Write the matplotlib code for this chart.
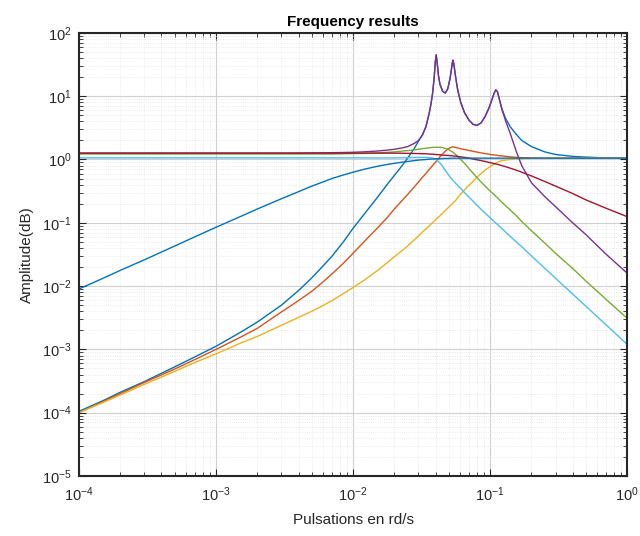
import matplotlib
matplotlib.use("Agg")
import matplotlib.pyplot as plt
import numpy as np

plt.rcParams['font.family'] = ['Liberation Sans', 'DejaVu Sans']

# pulsation grid (rd/s), denser around the resonances
freq = [1e-4, 1.5e-4, 2e-4, 3e-4, 5e-4, 7e-4, 1e-3, 1.5e-3, 2e-3, 3e-3,
        4e-3, 5e-3, 6e-3, 7e-3, 8.5e-3, 0.01, 0.012, 0.015, 0.018, 0.02,
        0.023, 0.025, 0.028, 0.03, 0.032, 0.034, 0.036, 0.037, 0.038, 0.039,
        0.0398, 0.0404, 0.041, 0.042, 0.043, 0.045, 0.047, 0.049, 0.051, 0.052,
        0.053, 0.0536, 0.0545, 0.056, 0.058, 0.061, 0.065, 0.07, 0.075, 0.08,
        0.086, 0.092, 0.098, 0.103, 0.107, 0.11, 0.113, 0.117, 0.122, 0.13,
        0.14, 0.155, 0.17, 0.2, 0.25, 0.3, 0.4, 0.5, 0.7, 1.0]

amp_blue = [1.05e-4, 1.55e-4, 2.1e-4, 3.1e-4, 5.3e-4, 7.6e-4, 1.12e-3, 1.85e-3, 2.7e-3, 5.0e-3,
            8.5e-3, 1.35e-2, 2.05e-2, 2.95e-2, 5.0e-2, 0.082, 0.135, 0.25, 0.42, 0.56,
            0.82, 1.05, 1.5, 1.95, 2.45, 3.3, 5.5, 7.5, 11, 19,
            35, 45, 35, 21, 15.5, 12, 11.2, 13, 19, 25,
            34, 37, 31, 20, 12.5, 8, 5.5, 4.2, 3.6, 3.45,
            3.8, 4.8, 6.5, 8.8, 11.2, 12.6, 11.8, 8.8, 6.3, 4.4,
            3.3, 2.5, 2.0, 1.6, 1.32, 1.2, 1.12, 1.09, 1.06, 1.05]
amp_orange = [1.0e-4, 1.5e-4, 2.0e-4, 3.0e-4, 4.9e-4, 6.9e-4, 1.0e-3, 1.55e-3, 2.15e-3, 3.9e-3,
              5.9e-3, 8.3e-3, 0.0115, 0.0155, 0.023, 0.033, 0.05, 0.082, 0.125, 0.165,
              0.23, 0.28, 0.37, 0.44, 0.52, 0.6, 0.7, 0.75, 0.8, 0.86,
              0.9, 0.93, 0.97, 1.03, 1.1, 1.22, 1.35, 1.45, 1.53, 1.56,
              1.58, 1.58, 1.57, 1.55, 1.52, 1.48, 1.44, 1.39, 1.35, 1.31,
              1.27, 1.24, 1.21, 1.19, 1.18, 1.17, 1.16, 1.15, 1.14, 1.12,
              1.1, 1.08, 1.07, 1.06, 1.05, 1.05, 1.05, 1.05, 1.05, 1.05]
amp_yellow = [1.0e-4, 1.45e-4, 1.9e-4, 2.8e-4, 4.5e-4, 6.2e-4, 8.5e-4, 1.25e-3, 1.6e-3, 2.4e-3,
              3.2e-3, 4.0e-3, 4.9e-3, 5.9e-3, 7.6e-3, 9.5e-3, 0.0123, 0.0175, 0.024, 0.029,
              0.037, 0.043, 0.054, 0.062, 0.071, 0.08, 0.09, 0.095, 0.1, 0.106,
              0.11, 0.114, 0.117, 0.123, 0.129, 0.142, 0.156, 0.17, 0.185, 0.193,
              0.2, 0.205, 0.213, 0.225, 0.25, 0.285, 0.33, 0.39, 0.45, 0.52,
              0.6, 0.68, 0.75, 0.81, 0.85, 0.88, 0.9, 0.93, 0.96, 0.98,
              1.0, 1.02, 1.03, 1.04, 1.05, 1.05, 1.05, 1.05, 1.05, 1.05]
amp_purple = [1.26, 1.26, 1.26, 1.26, 1.26, 1.26, 1.26, 1.26, 1.26, 1.26,
              1.265, 1.27, 1.275, 1.28, 1.29, 1.3, 1.32, 1.36, 1.41, 1.45,
              1.53, 1.6, 1.8, 2.0, 2.4, 3.3, 5.5, 7.5, 11, 19,
              35, 45, 35, 21, 15.5, 12, 11.2, 13, 19, 25,
              34, 37, 31, 20, 12.5, 8, 5.5, 4.2, 3.6, 3.45,
              3.8, 4.8, 6.5, 8.8, 11.2, 12.6, 11.8, 8.8, 6.1, 4.0,
              2.6, 1.35, 0.8, 0.43, 0.26, 0.18, 0.1, 0.065, 0.032, 0.016]
amp_green = [1.22, 1.22, 1.22, 1.22, 1.22, 1.22, 1.22, 1.22, 1.22, 1.22,
             1.22, 1.22, 1.22, 1.22, 1.23, 1.24, 1.25, 1.27, 1.3, 1.32,
             1.36, 1.38, 1.42, 1.45, 1.48, 1.51, 1.53, 1.54, 1.55, 1.555,
             1.56, 1.56, 1.56, 1.56, 1.555, 1.54, 1.5, 1.45, 1.39, 1.35,
             1.32, 1.3, 1.26, 1.2, 1.12, 1.0, 0.87, 0.72, 0.61, 0.52,
             0.44, 0.38, 0.33, 0.3, 0.28, 0.26, 0.25, 0.23, 0.21, 0.185,
             0.16, 0.13, 0.105, 0.075, 0.048, 0.033, 0.019, 0.012, 0.0062, 0.0031]
amp_cyan = [1.06, 1.06, 1.06, 1.06, 1.06, 1.06, 1.06, 1.06, 1.06, 1.06,
            1.06, 1.06, 1.06, 1.06, 1.06, 1.06, 1.06, 1.06, 1.06, 1.06,
            1.065, 1.07, 1.075, 1.08, 1.08, 1.08, 1.07, 1.06, 1.05, 1.03,
            1.01, 0.99, 0.97, 0.93, 0.88, 0.78, 0.68, 0.6, 0.53, 0.5,
            0.48, 0.465, 0.45, 0.42, 0.39, 0.35, 0.3, 0.255, 0.22, 0.19,
            0.163, 0.142, 0.125, 0.113, 0.105, 0.099, 0.094, 0.088, 0.081, 0.071,
            0.061, 0.05, 0.042, 0.03, 0.0192, 0.0133, 0.0075, 0.0048, 0.00245, 0.0012]
amp_maroon = [1.26, 1.26, 1.26, 1.26, 1.26, 1.26, 1.26, 1.26, 1.26, 1.26,
              1.26, 1.26, 1.26, 1.26, 1.26, 1.26, 1.26, 1.26, 1.26, 1.26,
              1.255, 1.25, 1.245, 1.24, 1.235, 1.23, 1.22, 1.215, 1.21, 1.205,
              1.2, 1.2, 1.195, 1.19, 1.185, 1.175, 1.165, 1.16, 1.15, 1.145,
              1.14, 1.14, 1.135, 1.13, 1.12, 1.1, 1.08, 1.05, 1.02, 0.99,
              0.96, 0.93, 0.9, 0.88, 0.86, 0.85, 0.84, 0.82, 0.8, 0.77,
              0.73, 0.68, 0.63, 0.55, 0.45, 0.38, 0.29, 0.23, 0.17, 0.125]
amp_blue2 = [0.009, 0.0133, 0.0177, 0.026, 0.043, 0.06, 0.085, 0.125, 0.165, 0.24,
             0.31, 0.38, 0.44, 0.5, 0.57, 0.63, 0.7, 0.78, 0.84, 0.87,
             0.91, 0.93, 0.96, 0.98, 0.99, 1.0, 1.01, 1.015, 1.02, 1.02,
             1.025, 1.025, 1.03, 1.03, 1.03, 1.035, 1.04, 1.04, 1.045, 1.045,
             1.05, 1.05, 1.05, 1.05, 1.05, 1.05, 1.05, 1.05, 1.05, 1.05,
             1.05, 1.05, 1.05, 1.05, 1.05, 1.05, 1.05, 1.05, 1.05, 1.05,
             1.05, 1.05, 1.05, 1.05, 1.05, 1.05, 1.05, 1.05, 1.05, 1.05]

series = [amp_blue, amp_orange, amp_yellow, amp_purple, amp_green, amp_cyan, amp_maroon, amp_blue2]
colors = ['#0072BD', '#D95319', '#EDB120', '#7E2F8E', '#77AC30', '#4DBEEE', '#A2142F', '#0072BD']

fig = plt.figure(figsize=(6.4, 5.36), dpi=100)
ax = fig.add_axes([0.1234, 0.112, 0.8566, 0.8266])

for amp, c in zip(series, colors):
    ax.loglog(freq, amp, color=c, linewidth=1.0)

ax.set_xlim(1e-4, 1)
ax.set_ylim(1e-5, 1e2)
ax.yaxis.set_major_locator(matplotlib.ticker.LogLocator(base=10, numticks=10))
ax.yaxis.set_minor_locator(matplotlib.ticker.LogLocator(base=10, subs=np.arange(2, 10), numticks=20))

ax.grid(True, which='major', color='#d0d0d0', linewidth=0.8)
ax.grid(True, which='minor', color='#e4e4e4', linewidth=0.6, linestyle=':')
ax.tick_params(which='both', direction='in', top=True, right=True, color='#262626',
               labelsize=10.5, labelcolor='#262626')
ax.tick_params(which='major', length=5)
ax.tick_params(which='minor', length=3)
ax.tick_params(axis='x', which='major', pad=7)
ax.tick_params(axis='y', which='major', pad=5)
for s in ax.spines.values():
    s.set_color('#262626')
    s.set_linewidth(1.5)

ax.set_title('Frequency results', fontsize=11, fontweight='bold', pad=5)
ax.set_xlabel('Pulsations en rd/s', fontsize=11, color='#262626', labelpad=6)
ax.set_ylabel('Amplitude(dB)', fontsize=11, color='#262626', labelpad=6)

fig.savefig('out.png', dpi=100)
